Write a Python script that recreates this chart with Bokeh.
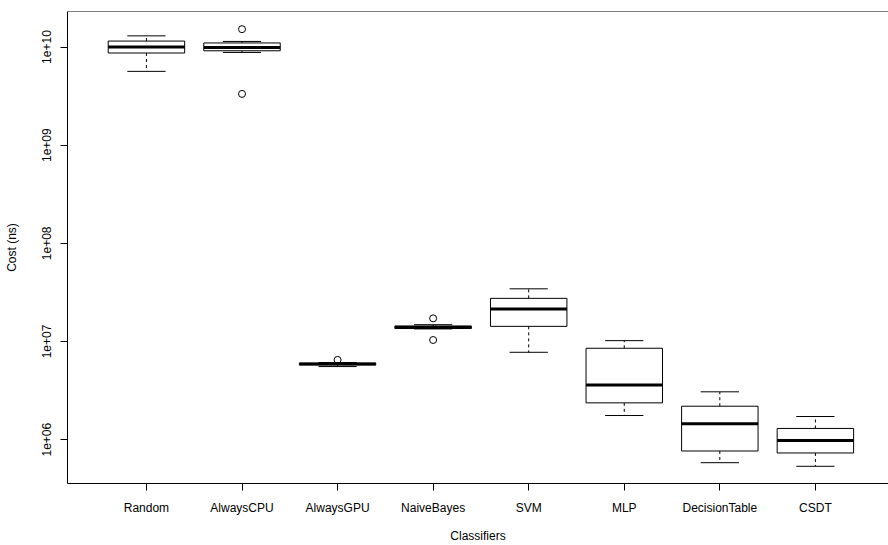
from bokeh.plotting import figure
from bokeh.models import Range1d, FixedTicker, Span, ColumnDataSource
from bokeh.embed import file_html
from bokeh.resources import INLINE

# ---- data ----
categories = ["Random", "AlwaysCPU", "AlwaysGPU", "NaiveBayes", "SVM", "MLP",
              "DecisionTable", "CSDT"]
lower_whisker = [5.65e9, 8.81e9, 5.55e6, 1.343e7, 7.76e6, 1.76e6, 5.82e5, 5.35e5]
q1 = [8.69e9, 9.16e9, 5.78e6, 1.355e7, 1.426e7, 2.37e6, 7.66e5, 7.31e5]
median = [1.00e10, 9.91e9, 5.90e6, 1.393e7, 2.14e7, 3.61e6, 1.45e6, 9.82e5]
q3 = [1.15e10, 1.10e10, 6.01e6, 1.435e7, 2.75e7, 8.53e6, 2.19e6, 1.30e6]
upper_whisker = [1.30e10, 1.14e10, 6.10e6, 1.483e7, 3.44e7, 1.02e7, 3.07e6, 1.72e6]
outlier_group = ["AlwaysCPU", "AlwaysCPU", "AlwaysGPU", "NaiveBayes", "NaiveBayes"]
outlier_value = [1.52e10, 3.33e9, 6.49e6, 1.72e7, 1.035e7]
y_ticks = [1e6, 1e7, 1e8, 1e9, 1e10]
y_tick_labels = ["1e+06", "1e+07", "1e+08", "1e+09", "1e+10"]

# ---- layout ----
BOX_W = 0.8
CAP_W = 0.4
FONT = "Liberation Sans"

pos = list(range(1, len(categories) + 1))
src = ColumnDataSource(dict(
    x=pos,
    x_left=[p - BOX_W / 2 for p in pos],
    x_right=[p + BOX_W / 2 for p in pos],
    c_left=[p - CAP_W / 2 for p in pos],
    c_right=[p + CAP_W / 2 for p in pos],
    lw=lower_whisker, q1=q1, med=median, q3=q3, uw=upper_whisker,
))
out_src = ColumnDataSource(dict(
    x=[pos[categories.index(g)] for g in outlier_group],
    y=outlier_value,
))

y_lo, y_hi = 10 ** 5.553, 10 ** 10.362
p = figure(width=888, height=545, y_axis_type="log",
           x_range=Range1d(0.174, 8.765), y_range=Range1d(y_lo, y_hi),
           output_backend="svg", toolbar_location=None,
           min_border_left=67, min_border_right=0, min_border_top=11,
           min_border_bottom=61)
p.outline_line_color = None
p.xgrid.visible = False
p.ygrid.visible = False
p.background_fill_color = "white"
p.border_fill_color = "white"

# whiskers (dashed)
p.segment(x0="x", y0="q3", x1="x", y1="uw", source=src, line_color="black",
          line_width=1, line_dash="3 3")
p.segment(x0="x", y0="q1", x1="x", y1="lw", source=src, line_color="black",
          line_width=1, line_dash="3 3")
# boxes
p.quad(left="x_left", right="x_right", bottom="q1", top="q3", source=src,
       fill_color="white", line_color="black", line_width=1)
# medians
p.segment(x0="x_left", y0="med", x1="x_right", y1="med", source=src,
          line_color="black", line_width=3)
# whisker caps
p.segment(x0="c_left", y0="uw", x1="c_right", y1="uw", source=src,
          line_color="black", line_width=1)
p.segment(x0="c_left", y0="lw", x1="c_right", y1="lw", source=src,
          line_color="black", line_width=1)
# outliers
p.scatter(x="x", y="y", source=out_src, marker="circle", size=7,
          fill_color=None, line_color="black", line_width=1)

# top border of the box
p.add_layout(Span(location=y_hi, dimension="width", line_color="black",
                  line_width=1))

# axes
xa = p.xaxis[0]
xa.ticker = FixedTicker(ticks=pos)
xa.major_label_overrides = {k: v for k, v in zip(pos, categories)}
xa.axis_label = "Classifiers"
ya = p.yaxis[0]
ya.ticker = FixedTicker(ticks=y_ticks)
ya.major_label_overrides = {k: v for k, v in zip(y_ticks, y_tick_labels)}
ya.axis_label = "Cost (ns)"
ya.major_label_orientation = "vertical"

for ax in (xa, ya):
    ax.axis_line_color = "black"
    ax.major_tick_line_color = "black"
    ax.minor_tick_line_color = None
    ax.major_tick_out = 7
    ax.major_tick_in = 0
    ax.major_label_text_font = FONT
    ax.major_label_text_font_size = "12px"
    ax.major_label_text_color = "black"
    ax.axis_label_text_font = FONT
    ax.axis_label_text_font_size = "12px"
    ax.axis_label_text_font_style = "normal"
    ax.axis_label_text_color = "black"

xa.major_label_standoff = 10
xa.axis_label_standoff = 11
ya.major_label_standoff = 9
ya.axis_label_standoff = 21

open("out.html", "w").write(file_html(p, INLINE))
